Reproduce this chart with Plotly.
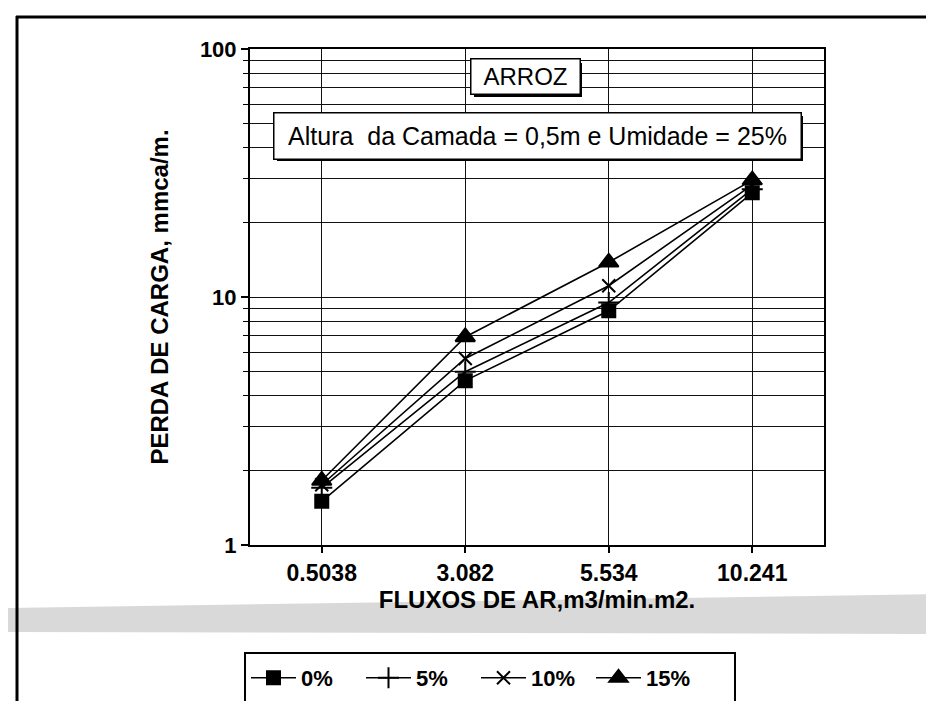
import plotly.graph_objects as go

# ---------------- data ----------------
categories = ["0.5038", "3.082", "5.534", "10.241"]
series_names = ["0%", "5%", "10%", "15%"]
loss_0 = [1.5, 4.6, 8.8, 26.3]
loss_5 = [1.7, 5.0, 9.5, 27.2]
loss_10 = [1.75, 5.65, 11.1, 28.3]
loss_15 = [1.82, 6.9, 13.8, 29.6]
y_tick_vals = [1, 10, 100]
y_tick_text = ["1", "10", "100"]
y_minor_vals = [2, 3, 4, 5, 6, 7, 8, 9, 20, 30, 40, 50, 60, 70, 80, 90]

# ---------------- layout geometry ----------------
W, H = 934, 701
ML, MR, MT, MB = 242, 118, 41, 164
PW = W - ML - MR
PH = H - MT - MB


def px(x):
    return (x - ML) / PW


def py(y):
    return (H - MB - y) / PH


FONT = "Liberation Sans, Arial, sans-serif"

styles = [
    dict(symbol="square", size=13),
    dict(symbol="cross-thin", size=15),
    dict(symbol="x-thin", size=13),
    dict(symbol="triangle-up", size=17),
]
all_series = [loss_0, loss_5, loss_10, loss_15]

fig = go.Figure()
for name, vals, st in zip(series_names, all_series, styles):
    fig.add_trace(go.Scatter(
        x=categories, y=vals, name=name, mode="lines+markers",
        line=dict(color="black", width=1.6),
        marker=dict(symbol=st["symbol"], size=st["size"], color="black",
                    line=dict(color="black", width=2)),
    ))

shapes = []
# page frame
shapes.append(dict(type="line", xref="paper", yref="paper",
                   x0=px(9), x1=px(9), y0=py(8), y1=py(701),
                   line=dict(color="black", width=3)))
shapes.append(dict(type="line", xref="paper", yref="paper",
                   x0=px(8), x1=px(934), y0=py(9), y1=py(9),
                   line=dict(color="black", width=3)))
shapes.append(dict(type="line", xref="paper", yref="paper",
                   x0=px(924), x1=px(924), y0=py(8), y1=py(588),
                   line=dict(color="black", width=2)))
shapes.append(dict(type="line", xref="paper", yref="paper",
                   x0=px(730), x1=px(934), y0=py(695), y1=py(695),
                   line=dict(color="#777", width=1, dash="dot")))
# scanned gray band
shapes.append(dict(type="path", xref="paper", yref="paper", layer="below",
                   path=f"M {px(0)},{py(600)} L {px(934)},{py(586)} L {px(934)},{py(626)} L {px(0)},{py(624)} Z",
                   fillcolor="#d9d9d9", line=dict(width=0)))
# legend box
shapes.append(dict(type="rect", xref="paper", yref="paper",
                   x0=px(237), x1=px(727), y0=py(645), y1=py(696),
                   line=dict(color="black", width=2), fillcolor="rgba(0,0,0,0)"))
# annotation drop shadows
shapes.append(dict(type="rect", xref="paper", yref="paper", layer="above",
                   x0=px(466), x1=px(574), y0=py(55), y1=py(89),
                   fillcolor="black", line=dict(width=0)))
shapes.append(dict(type="rect", xref="paper", yref="paper", layer="above",
                   x0=px(269), x1=px(795), y0=py(108), y1=py(153),
                   fillcolor="black", line=dict(width=0)))

annotations = [
    dict(x=px(517), y=py(69), xref="paper", yref="paper",
         xanchor="center", yanchor="middle", showarrow=False,
         text="ARROZ", font=dict(family=FONT, size=24, color="black"),
         bgcolor="white", bordercolor="black", borderwidth=1.5, borderpad=2,
         width=104, height=30),
    dict(x=px(529), y=py(127.5), xref="paper", yref="paper",
         xanchor="center", yanchor="middle", showarrow=False,
         text="Altura\u00a0 da Camada = 0,5m e Umidade = 25%",
         font=dict(family=FONT, size=25, color="black"),
         bgcolor="white", bordercolor="black", borderwidth=1.5, borderpad=2,
         width=522, height=41),
]

fig.update_layout(
    width=W, height=H,
    margin=dict(l=ML, r=MR, t=MT, b=MB, autoexpand=False),
    paper_bgcolor="white", plot_bgcolor="white",
    font=dict(family=FONT, color="black"),
    shapes=shapes, annotations=annotations,
    showlegend=True,
    legend=dict(orientation="h", x=px(238), y=py(649), xanchor="left", yanchor="top",
                bgcolor="rgba(0,0,0,0)", borderwidth=0, itemwidth=45,
                entrywidth=55, entrywidthmode="pixels",
                font=dict(family=FONT, size=22, color="black", weight="bold")),
    xaxis=dict(
        type="category", range=[-0.5, 3.5],
        showgrid=True, gridcolor="#111", gridwidth=1.2,
        showline=True, linecolor="black", linewidth=2, mirror=True,
        ticks="outside", ticklen=6, tickcolor="black", tickwidth=1.5,
        tickfont=dict(family=FONT, size=23, color="black", weight="bold"),
        title=dict(text="FLUXOS DE AR,m3/min.m2.", standoff=6,
                   font=dict(family=FONT, size=24, color="black", weight="bold")),
        zeroline=False,
    ),
    yaxis=dict(
        type="log", range=[0, 2],
        tickvals=y_tick_vals, ticktext=y_tick_text,
        showgrid=True, gridcolor="#111", gridwidth=1.2,
        showline=True, linecolor="black", linewidth=2, mirror=True,
        ticks="outside", ticklen=7, tickcolor="black", tickwidth=1.5,
        tickfont=dict(family=FONT, size=22, color="black", weight="bold"),
        minor=dict(tickvals=y_minor_vals, showgrid=True, gridcolor="#111", gridwidth=1.2,
                   ticks="outside", ticklen=5, tickcolor="black", tickwidth=1),
        title=dict(text="PERDA DE CARGA, mmca/m.", standoff=24,
                   font=dict(family=FONT, size=24, color="black", weight="bold")),
        zeroline=False,
    ),
)

fig.write_html("out.html")
